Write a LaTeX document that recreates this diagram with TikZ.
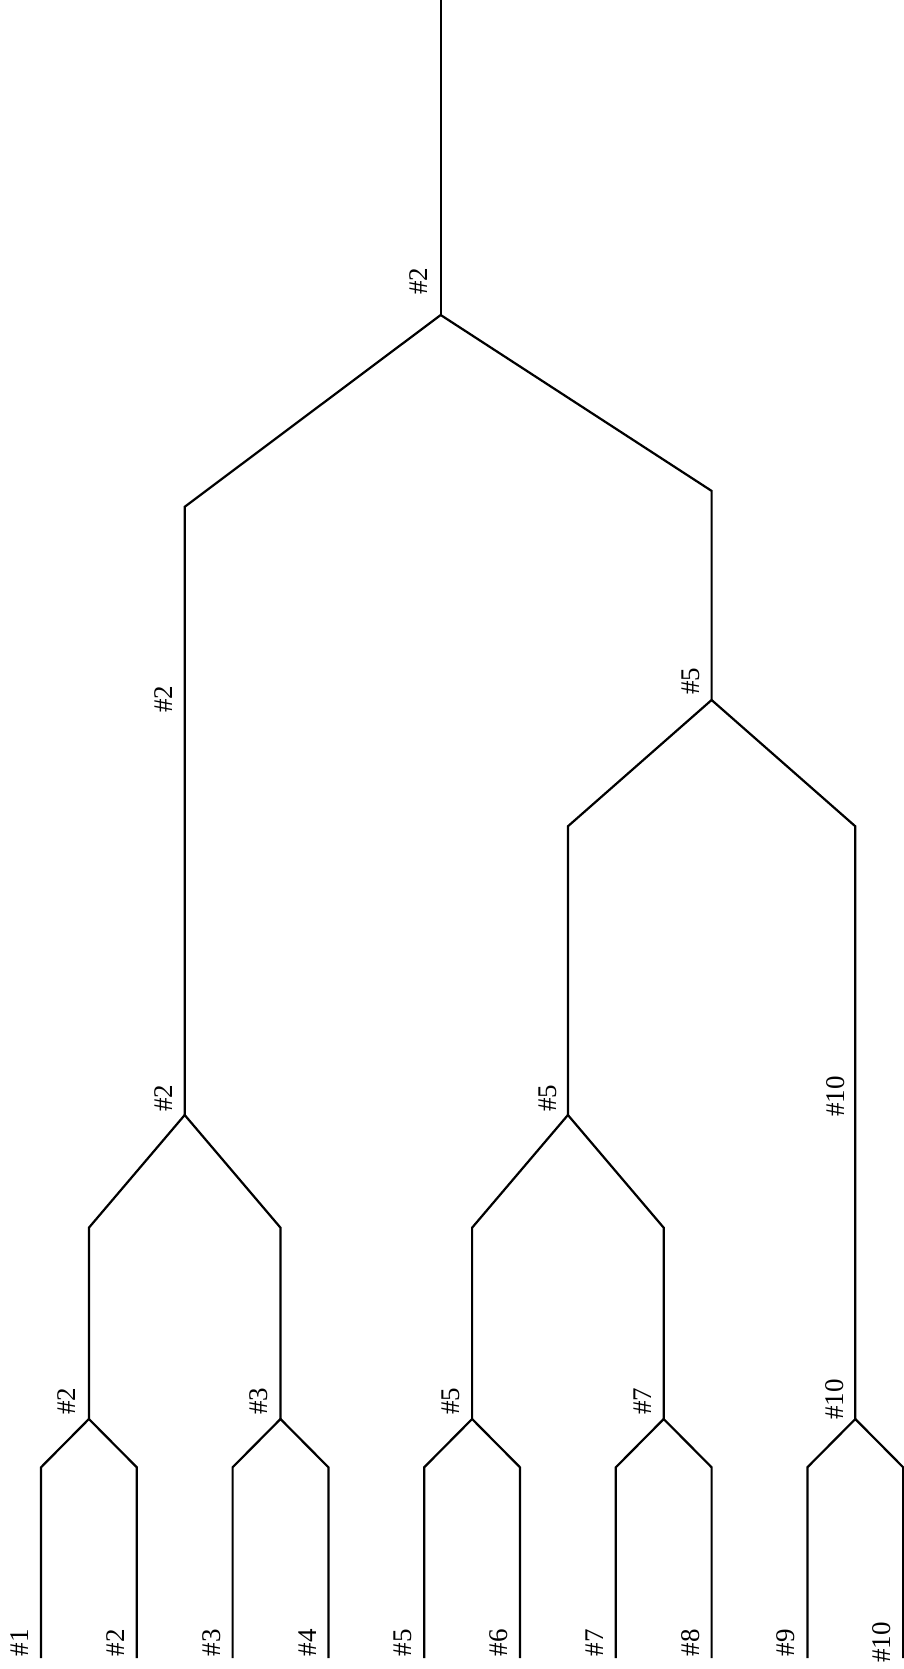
\documentclass[tikz,border=0pt]{standalone}
\usepackage{fontspec}
\setmainfont{Liberation Serif}
\begin{document}
\begin{tikzpicture}[x=1pt,y=-1pt,
  edge/.style={line width=2.2pt},
  lab/.style={rotate=90,anchor=south west,inner sep=0pt,font=\fontsize{27}{32}\selectfont},
  leaflab/.style={rotate=90,anchor=south,inner sep=0pt,font=\fontsize{27}{32}\selectfont}]
\useasboundingbox (0,0) rectangle (904,1669);
% internal nodes
\coordinate (top) at (440.7,0);
\coordinate (r) at (440.7,315);
\coordinate (rl) at (184.7,506.8);
\coordinate (rr) at (711.6,490.9);
\coordinate (a) at (184.7,1115);
\coordinate (b) at (711.6,700);
\coordinate (bl) at (567.9,826.3);
\coordinate (br) at (855.3,826.3);
\coordinate (c) at (567.9,1115);
\coordinate (al) at (88.9,1227.7);
\coordinate (ar) at (280.5,1227.7);
\coordinate (cl) at (472.1,1227.7);
\coordinate (cr) at (663.7,1227.7);
\coordinate (n1) at (88.9,1419);
\coordinate (n2) at (280.5,1419);
\coordinate (n3) at (472.1,1419);
\coordinate (n4) at (663.7,1419);
\coordinate (n5) at (855.3,1419);
% leaves
\foreach \i in {1,...,10}{
  \pgfmathsetmacro{\lx}{41+95.8*(\i-1)}
  \coordinate (k\i) at (\lx,1467.3);
  \coordinate (e\i) at (\lx,1658);
}
% edges
\draw[edge] (top) -- (r);
\draw[edge] (a) -- (rl) -- (r) -- (rr) -- (b);
\draw[edge] (c) -- (bl) -- (b) -- (br) -- (n5);
\draw[edge] (n1) -- (al) -- (a) -- (ar) -- (n2);
\draw[edge] (n3) -- (cl) -- (c) -- (cr) -- (n4);
\draw[edge] (e1) -- (k1) -- (n1) -- (k2) -- (e2);
\draw[edge] (e3) -- (k3) -- (n2) -- (k4) -- (e4);
\draw[edge] (e5) -- (k5) -- (n3) -- (k6) -- (e6);
\draw[edge] (e7) -- (k7) -- (n4) -- (k8) -- (e8);
\draw[edge] (e9) -- (k9) -- (n5) -- (k10) -- (e10);
% internal labels
\node[lab] (L1) at (428,295) {\#2};
\node[lab] (L2) at (173,713) {\#2};
\node[lab] (L3) at (173,1112) {\#2};
\node[lab] (L4) at (700,695) {\#5};
\node[lab] (L5) at (557,1112) {\#5};
\node[lab] (L6) at (845,1117) {\#10};
\node[lab] (L7) at (76,1415) {\#2};
\node[lab] (L8) at (268,1415) {\#3};
\node[lab] (L9) at (460,1415) {\#5};
\node[lab] (L10) at (652,1415) {\#7};
\node[lab] (L11) at (844,1420) {\#10};
% leaf labels
\foreach \i in {1,...,10}{
  \pgfmathsetmacro{\tx}{41+95.8*(\i-1)-12}
  \node[leaflab] (T\i) at (\tx,1642.5) {\#\i};
}
\end{tikzpicture}
\end{document}
